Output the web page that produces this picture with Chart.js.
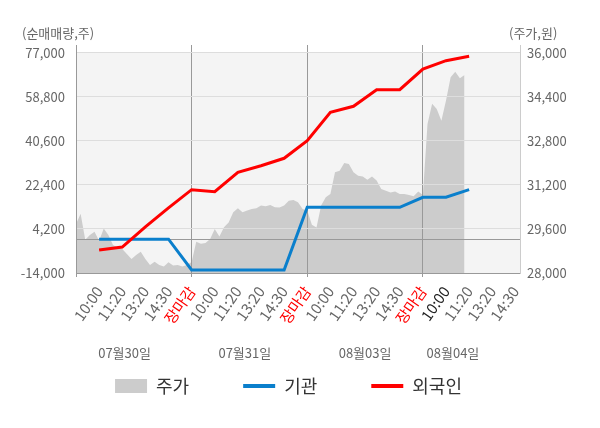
<!DOCTYPE html>
<html>
<head>
<meta charset="utf-8">
<script src="https://cdn.jsdelivr.net/npm/chart.js@4.4.1/dist/chart.umd.min.js"></script>
<style>
  html, body { margin: 0; padding: 0; background: #fff; }
  #wrap { width: 600px; height: 428px; }
</style>
</head>
<body>
<div id="wrap"><canvas id="chart"></canvas></div>
<script>
// x axis: 5 ticks per trading day, one unit per tick
const tickLabels = ['',
  '10:00', '11:20', '13:20', '14:30', '장마감',
  '10:00', '11:20', '13:20', '14:30', '장마감',
  '10:00', '11:20', '13:20', '14:30', '장마감',
  '10:00', '11:20', '13:20', '14:30'];
const dayLabels = ['07월30일', '07월31일', '08월03일', '08월04일'];
const leftTicks = [-14000, 0, 4200, 22400, 40600, 58800, 77000];
const rightTicks = [28000, 29600, 31200, 32800, 34400, 36000];

// 주가 (원), 5 samples per tick unit
const priceSeries = [
  29780, 30150, 29210, 29380, 29500, 29170, 29620, 29380, 29020, 28930,
  28870, 28690, 28510, 28650, 28770, 28510, 28290, 28410, 28290, 28240,
  28390, 28270, 28290, 28240, 28290, 28400,
  29140, 29060, 29090, 29240, 29600, 29330, 29660, 29840, 30210, 30350,
  30210, 30270, 30330, 30350, 30450, 30430, 30470, 30390, 30380, 30450,
  30630, 30650, 30570, 30330, 30270,
  29750, 29650, 30450, 30750, 30870, 31660, 31720, 32000, 31960, 31660,
  31540, 31510, 31390, 31510, 31360, 31050, 30990, 30930, 30960, 30870,
  30870, 30840, 30790, 30960, 30840,
  33420, 34150, 33960, 33540, 34270, 35120, 35320, 35080, 35200
];
// 누적 순매매량 (주), one value per tick from the first 10:00
const instSeries = [0, 0, 0, 0, -12760, -12760, -12760, -12760, -12760,
  13180, 13180, 13180, 13180, 13180, 17320, 17320, 20460];
const foreignSeries = [-4490, -3250, 5100, 12900, 20460, 19630, 27650, 30380, 33440,
  40720, 52460, 54950, 61820, 61820, 70370, 73810, 75630];

const FONT = "'Noto Sans CJK KR', 'Noto Sans', sans-serif";
const dayCenters = [2.1, 7.3, 12.5, 16.3];

const bgPlugin = {
  id: 'bg',
  beforeDraw(chart) {
    const {ctx, chartArea: a, scales} = chart;
    const top = scales.y.getPixelForValue(77000);
    ctx.save();
    ctx.fillStyle = '#f4f4f4';
    ctx.fillRect(a.left, top, a.right - a.left, a.bottom - top);
    ctx.restore();
  },
  afterDraw(chart) {
    const {ctx, scales} = chart;
    ctx.save();
    ctx.font = '13px ' + FONT;
    ctx.fillStyle = '#666';
    ctx.textBaseline = 'middle';
    ctx.textAlign = 'left';
    ctx.fillText('(순매매량,주)', 22, 33);
    ctx.fillText('(주가,원)', 509, 33);
    ctx.textAlign = 'center';
    dayLabels.forEach((d, i) => {
      ctx.fillText(d, scales.x.getPixelForValue(dayCenters[i]), 353);
    });
    ctx.restore();
  }
};

// background first, then the area fill, so the grid lands on top of the fill
Chart.unregister(Chart.Filler);
Chart.register(bgPlugin, Chart.Filler);

new Chart(document.getElementById('chart'), {
  type: 'line',
  data: {
    datasets: [
      {
        label: '주가',
        data: priceSeries.map((v, i) => ({x: i / 5, y: v})),
        yAxisID: 'yR',
        fill: 'start',
        backgroundColor: '#cccccc',
        borderColor: '#cccccc',
        borderWidth: 0,
        pointRadius: 0,
        tension: 0,
        order: 3
      },
      {
        label: '기관',
        data: instSeries.map((v, i) => ({x: i + 1, y: v})),
        yAxisID: 'y',
        borderColor: '#0a7fcc',
        backgroundColor: '#0a7fcc',
        borderWidth: 3,
        pointRadius: 0,
        tension: 0,
        order: 2
      },
      {
        label: '외국인',
        data: foreignSeries.map((v, i) => ({x: i + 1, y: v})),
        yAxisID: 'y',
        borderColor: '#ff0000',
        backgroundColor: '#ff0000',
        borderWidth: 3,
        pointRadius: 0,
        tension: 0,
        order: 1
      }
    ]
  },
  options: {
    responsive: true,
    maintainAspectRatio: false,
    animation: false,
    layout: { padding: { top: 45, left: 0, right: 23, bottom: 23 } },
    plugins: {
      filler: { drawTime: 'beforeDraw' },
      tooltip: { enabled: false },
      legend: {
        position: 'bottom',
        labels: {
          usePointStyle: true,
          pointStyleWidth: 32,
          boxHeight: 14,
          padding: 54,
          color: '#333',
          font: { size: 18, family: FONT },
          generateLabels(chart) {
            return chart.data.datasets.map((ds, i) => ({
              text: ds.label,
              fillStyle: ds.backgroundColor,
              strokeStyle: ds.borderColor,
              lineWidth: i === 0 ? 0 : 4,
              pointStyle: i === 0 ? 'rect' : 'line',
              fontColor: '#333',
              hidden: false,
              datasetIndex: i
            }));
          }
        }
      }
    },
    scales: {
      x: {
        type: 'linear',
        min: 0,
        max: 19.2,
        afterBuildTicks(s) { s.ticks = tickLabels.map((t, i) => ({value: i})); },
        afterFit(s) { s.height = 50; },
        border: { color: '#999' },
        grid: {
          color: (c) => (c.tick && c.tick.value % 5 === 0) ? '#999' : 'rgba(0,0,0,0)',
          tickLength: 4
        },
        ticks: {
          autoSkip: false,
          minRotation: 55,
          maxRotation: 55,
          padding: 6,
          font: { size: 15, family: FONT },
          color: (c) => {
            const t = tickLabels[c.tick.value];
            if (t === '장마감') return '#ff0000';
            if (c.tick.value === 16) return '#222';
            return '#666';
          },
          callback: (v) => tickLabels[v] || ''
        }
      },
      y: {
        position: 'left',
        min: -14000,
        max: 80300,
        afterBuildTicks(s) { s.ticks = leftTicks.map(v => ({value: v})); },
        afterFit(s) { s.width = 76; },
        border: { color: '#999' },
        grid: {
          color: (c) => (c.tick && c.tick.value === 0) ? '#999' : '#dddddd',
          drawTicks: false
        },
        ticks: {
          padding: 11,
          font: { size: 13, family: FONT },
          color: '#666',
          callback: (v) => v === 0 ? '' : v.toLocaleString('en-US')
        }
      },
      yR: {
        position: 'right',
        min: 28000,
        max: 36290,
        afterBuildTicks(s) { s.ticks = rightTicks.map(v => ({value: v})); },
        afterFit(s) { s.width = 57; },
        border: { color: '#cccccc' },
        grid: { display: false, drawTicks: false },
        ticks: {
          padding: 7,
          font: { size: 13, family: FONT },
          color: '#666',
          callback: (v) => v.toLocaleString('en-US')
        }
      }
    }
  }
});
</script>
</body>
</html>
